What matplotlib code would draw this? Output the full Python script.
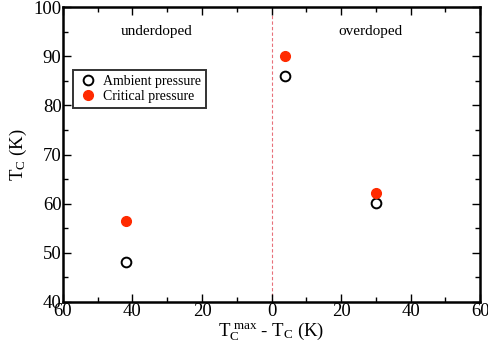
import matplotlib as mpl
mpl.use('Agg')
import matplotlib.pyplot as plt
from matplotlib.ticker import MultipleLocator, FuncFormatter

plt.rcParams['font.family'] = 'Liberation Serif'
plt.rcParams['mathtext.fontset'] = 'custom'
plt.rcParams['mathtext.rm'] = 'Liberation Serif'
plt.rcParams['mathtext.it'] = 'Liberation Serif'

# data: x = Tc_max - Tc (negative side = underdoped)
x_pts = [-42, 4, 30]
tc_ambient = [48.1, 86.0, 60.1]
tc_critical = [56.5, 90.1, 62.1]

fig = plt.figure(figsize=(4.88, 3.56), dpi=100)
ax = fig.add_axes([0.129, 0.152, 0.855, 0.828])

ax.axvline(0, color='#e8707a', lw=0.8, ls=(0, (3, 2)), zorder=1)
ax.plot(x_pts, tc_ambient, 'o', ms=7, mfc='white', mec='black', mew=1.4,
        ls='none', label='Ambient pressure', zorder=3)
ax.plot(x_pts, tc_critical, 'o', ms=7, mfc='#ff2a00', mec='#ff2a00',
        ls='none', label='Critical pressure', zorder=3)

ax.set_xlim(-60, 60)
ax.set_ylim(40, 100)
ax.xaxis.set_major_locator(MultipleLocator(20))
ax.xaxis.set_minor_locator(MultipleLocator(10))
ax.yaxis.set_major_locator(MultipleLocator(10))
ax.yaxis.set_minor_locator(MultipleLocator(5))
ax.xaxis.set_major_formatter(FuncFormatter(lambda v, p: '%d' % abs(v)))
ax.tick_params(which='both', direction='in', top=True, right=True, labelsize=13.5, pad=1)
ax.tick_params(which='major', length=6, width=1)
ax.tick_params(which='minor', length=3.5, width=1)
for s in ax.spines.values():
    s.set_linewidth(1.8)

ax.set_xlabel(r'T$_\mathrm{C}^{\ \mathrm{max}}$ - T$_\mathrm{C}$ (K)', fontsize=13.5, labelpad=0)
ax.set_ylabel(r'T$_\mathrm{C}$ (K)', fontsize=13.5, labelpad=3)

ax.text(-33, 95, 'underdoped', ha='center', va='center', fontsize=11)
ax.text(28.5, 95, 'overdoped', ha='center', va='center', fontsize=11)

leg = ax.legend(loc='upper left', bbox_to_anchor=(0.024, 0.786), fontsize=10,
                frameon=True, fancybox=False, edgecolor='black', borderpad=0.35,
                handletextpad=0.3, handlelength=1.5, labelspacing=0.15,
                borderaxespad=0)
leg.get_frame().set_linewidth(1.4)

fig.savefig('out.png', dpi=100)
